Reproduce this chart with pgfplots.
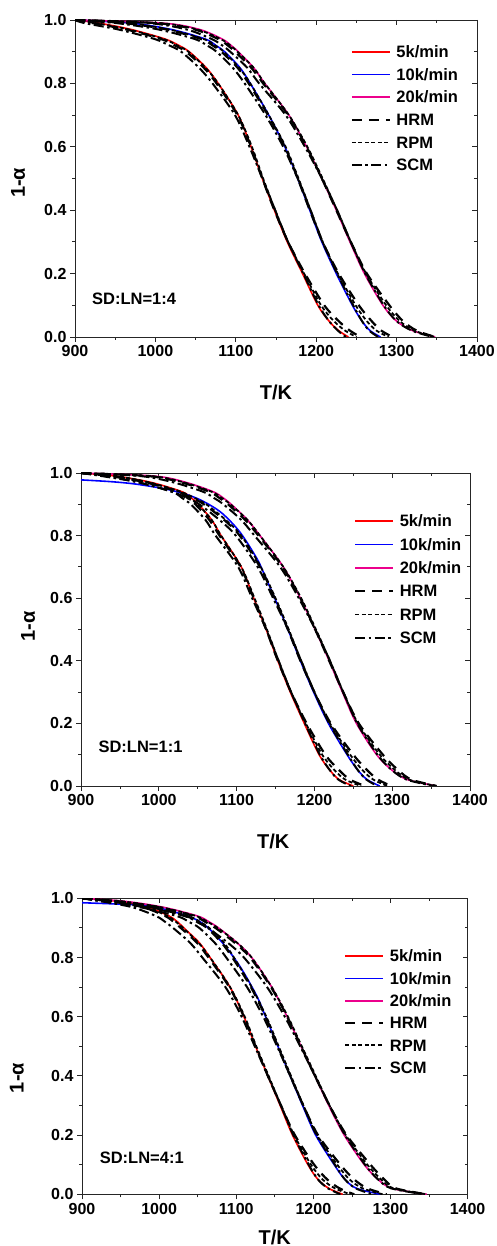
\documentclass[border=0pt]{standalone}
\usepackage{fontspec}
\setmainfont{Liberation Sans}
\usepackage{pgfplots}
\pgfplotsset{compat=1.18}
\usepackage{pgfplotstable}

% panel 1 : columns = 1-alpha, exp (5,10,20 K/min), models
\pgfplotstableread{
v rE bE mE rH rR rS bH bR bS mH mR mS
1.00 900 900 900 900 900 900 900 900 900 900 900 900
0.99 930 970 1010 922 926 912 962 966 952 1002 1006 992
0.97 970 1020 1055 964 967 954 1014 1017 1004 1049 1052 1039
0.94 1012 1062 1083 1007 1010 999 1057 1060 1049 1078 1081 1070
0.92 1029 1075 1094 1024 1027 1017 1071 1074 1064 1090 1093 1083
0.90 1042 1086 1103 1038 1041 1032 1082 1085 1076 1099 1102 1093
0.85 1063 1105 1122 1060 1062 1054 1102 1104 1096 1119 1122 1114
0.80 1078 1118 1136 1076 1078 1071 1116 1118 1111 1134 1136 1129
0.70 1103 1141 1166 1102 1103 1099 1140 1141 1137 1165 1166 1162
0.60 1119 1161 1188 1119 1120 1117 1161 1162 1159 1188 1189 1186
0.50 1133 1177 1207 1133 1134 1133 1177 1178 1177 1207 1208 1207
0.40 1148 1192 1225 1148 1149 1149 1192 1193 1193 1225 1226 1226
0.30 1164 1207 1242 1165 1165 1165 1208 1208 1208 1243 1243 1243
0.20 1183 1225 1260 1186 1185 1184 1228 1227 1226 1263 1262 1261
0.10 1202 1245 1283 1210 1206 1203 1253 1249 1246 1291 1287 1284
0.05 1216 1257 1300 1228 1222 1216 1269 1263 1257 1308 1304 1300
0.02 1228 1267 1320 1242 1236 1227 1281 1275 1266 1325 1322 1319
0.00 1240 1280 1348 1255 1250 1237 1295 1290 1277 1348 1348 1345
}\tabA

\pgfplotstableread{
v rE mE rH rR rS bH bR bS mH mR mS
1.00 900 900 900 900 900 900 900 900 900 900 900
0.99 945 995 937 941 927 942 946 932 987 991 977
0.97 990 1035 984 987 974 984 987 974 1029 1032 1019
0.94 1030 1070 1025 1028 1017 1025 1028 1017 1065 1068 1057
0.92 1042 1083 1037 1040 1030 1043 1046 1036 1078 1081 1071
0.90 1051 1093 1047 1050 1041 1058 1061 1052 1089 1092 1083
0.85 1068 1114 1065 1068 1060 1084 1086 1078 1111 1114 1106
0.80 1080 1130 1078 1080 1073 1104 1106 1099 1128 1130 1123
0.70 1106 1160 1105 1106 1102 1130 1131 1127 1159 1160 1156
0.60 1122 1182 1122 1123 1120 1149 1150 1147 1182 1183 1180
0.50 1138 1201 1138 1139 1138 1166 1167 1166 1201 1202 1201
0.40 1153 1219 1153 1154 1154 1182 1183 1183 1219 1220 1220
0.30 1169 1236 1170 1170 1170 1200 1200 1200 1237 1237 1237
0.20 1187 1254 1190 1189 1188 1221 1220 1219 1257 1256 1255
0.10 1206 1280 1214 1210 1207 1250 1246 1243 1288 1284 1281
0.05 1220 1300 1232 1226 1220 1268 1262 1256 1308 1304 1300
0.02 1232 1320 1246 1240 1231 1282 1276 1267 1325 1322 1319
0.00 1250 1357 1265 1260 1247 1299 1294 1281 1357 1357 1354
}\tabB

\pgfplotstableread{
T v
900 0.978
940 0.972
972 0.964
1014 0.946
1049 0.919
1079 0.876
1104 0.812
1126 0.727
1134 0.685
1149 0.600
1166 0.500
1182 0.400
1199 0.300
1218 0.200
1242 0.100
1256 0.050
1268 0.020
1284 0.000
}\tabBblue

\pgfplotstableread{
v rE mE rH rR rS bH bR bS mH mR mS
1.00 900 900 900 900 900 900 900 900 900 900 900
0.99 945 955 937 941 925 937 941 925 947 951 935
0.97 985 1005 979 982 965 989 992 975 999 1002 985
0.94 1013 1050 1008 1011 996 1035 1038 1023 1045 1048 1033
0.92 1024 1065 1019 1022 1008 1050 1053 1039 1060 1063 1049
0.90 1032 1077 1028 1031 1018 1062 1065 1052 1073 1076 1063
0.85 1052 1101 1049 1051 1040 1081 1084 1072 1098 1101 1089
0.80 1066 1120 1064 1066 1056 1095 1097 1087 1118 1120 1110
0.70 1092 1146 1091 1092 1086 1119 1120 1114 1145 1146 1140
0.60 1110 1166 1110 1111 1107 1138 1139 1135 1166 1167 1163
0.50 1125 1184 1125 1126 1124 1154 1155 1153 1184 1185 1183
0.40 1141 1202 1141 1142 1141 1170 1171 1170 1202 1203 1202
0.30 1157 1220 1158 1158 1158 1187 1187 1187 1221 1221 1221
0.20 1173 1240 1176 1175 1174 1206 1205 1204 1243 1242 1241
0.10 1193 1266 1201 1197 1194 1235 1231 1228 1274 1270 1267
0.05 1206 1284 1218 1212 1206 1253 1247 1241 1292 1288 1284
0.02 1220 1302 1234 1228 1219 1270 1264 1255 1307 1304 1301
0.00 1238 1347 1253 1248 1235 1295 1290 1277 1347 1347 1344
}\tabC

\pgfplotstableread{
T v
900 0.985
950 0.980
993 0.972
1049 0.927
1079 0.859
1105 0.769
1127 0.668
1138 0.600
1154 0.500
1170 0.400
1186 0.300
1203 0.200
1227 0.100
1241 0.050
1256 0.020
1287 0.000
}\tabCblue

\pgfplotsset{
  base/.style={scale only axis, xmin=900, xmax=1400, ymin=0, ymax=1,
    xtick={900,1000,1100,1200,1300,1400}, ytick={0,0.2,0.4,0.6,0.8,1.0},
    minor x tick num=1, minor y tick num=1,
    major tick length=5pt, minor tick length=3pt,
    axis line style={line width=0.8pt, black!85},
    every tick/.append style={line width=0.8pt, black!85}},
  lbl/.style={base, tick align=outside, xtick pos=left, ytick pos=left,
    ticklabel style={font=\fontsize{16}{18}\selectfont\bfseries},
    /pgf/number format/assume math mode=true,
    /pgf/number format/1000 sep={},
    yticklabel style={/pgf/number format/fixed, /pgf/number format/fixed zerofill, /pgf/number format/precision=1},
    xlabel={T/K}, ylabel={1-α},
    label style={font=\fontsize{20}{22}\selectfont\bfseries},
    legend image code/.code={\draw[##1] (0pt,0pt) -- (38pt,0pt);},
    legend cell align=left,
    legend style={draw=none, fill=none, inner sep=0pt, outer sep=0pt,
      font=\fontsize{16.5}{18}\selectfont\bfseries,
      nodes={inner sep=0pt, text height=11.5pt, text depth=0pt},
      /tikz/every odd column/.append style={column sep=5.5pt}}},
  tr/.style={base, tick align=inside, xtick pos=right, ytick pos=right,
    xticklabels={}, yticklabels={}},
  ex/.style={line width=1.6pt, smooth},
  hrm/.style={black, line width=2.2pt, smooth, dash pattern=on 10pt off 7pt},
  rpm/.style={black, line width=1.8pt, smooth, dash pattern=on 4pt off 2.5pt},
  scm/.style={black, line width=2pt, smooth, dash pattern=on 10pt off 3.5pt on 2.5pt off 3.5pt},
}

\begin{document}
\begin{tikzpicture}
\useasboundingbox (0pt,0pt) rectangle (496pt,1246pt);

% ---------------- panel 1 ----------------
\begin{axis}[tr, at={(75pt,909pt)}, anchor=south west, width=402pt, height=317pt]
\end{axis}
\begin{axis}[lbl, at={(75pt,909pt)}, anchor=south west, width=402pt, height=317pt,
  xlabel style={at={(axis description cs:0.5,-0.1735)}, anchor=center},
  ylabel style={at={(axis description cs:-0.1418,0.486)}, anchor=center},
  legend style={at={(axis description cs:0.686,0.917)}, anchor=north west, row sep=11.1pt}]
\addplot[ex, red] table[x=rE, y=v] {\tabA}; \addlegendentry{5k/min}
\addplot[ex, blue] table[x=bE, y=v] {\tabA}; \addlegendentry{10k/min}
\addplot[ex, magenta] table[x=mE, y=v] {\tabA}; \addlegendentry{20k/min}
\addplot[hrm] table[x=rH, y=v] {\tabA}; \addlegendentry{HRM}
\addplot[rpm] table[x=rR, y=v] {\tabA}; \addlegendentry{RPM}
\addplot[scm] table[x=rS, y=v] {\tabA}; \addlegendentry{SCM}
\addplot[hrm, forget plot] table[x=bH, y=v] {\tabA};
\addplot[rpm, forget plot] table[x=bR, y=v] {\tabA};
\addplot[scm, forget plot] table[x=bS, y=v] {\tabA};
\addplot[hrm, forget plot] table[x=mH, y=v] {\tabA};
\addplot[rpm, forget plot] table[x=mR, y=v] {\tabA};
\addplot[scm, forget plot] table[x=mS, y=v] {\tabA};
\node[anchor=west, font=\fontsize{16.5}{18}\selectfont\bfseries] at (axis cs:917,0.12) {SD:LN=1:4};
\end{axis}

% ---------------- panel 2 ----------------
\begin{axis}[tr, at={(81pt,460pt)}, anchor=south west, width=389pt, height=313pt]
\end{axis}
\begin{axis}[lbl, at={(81pt,460pt)}, anchor=south west, width=389pt, height=313pt,
  xlabel style={at={(axis description cs:0.494,-0.1757)}, anchor=center},
  ylabel style={at={(axis description cs:-0.136,0.509)}, anchor=center},
  legend style={at={(axis description cs:0.702,0.865)}, anchor=north west, row sep=11.9pt}]
\addplot[ex, red] table[x=rE, y=v] {\tabB}; \addlegendentry{5k/min}
\addplot[ex, blue] table[x=T, y=v] {\tabBblue}; \addlegendentry{10k/min}
\addplot[ex, magenta] table[x=mE, y=v] {\tabB}; \addlegendentry{20k/min}
\addplot[hrm] table[x=rH, y=v] {\tabB}; \addlegendentry{HRM}
\addplot[rpm] table[x=rR, y=v] {\tabB}; \addlegendentry{RPM}
\addplot[scm] table[x=rS, y=v] {\tabB}; \addlegendentry{SCM}
\addplot[hrm, forget plot] table[x=bH, y=v] {\tabB};
\addplot[rpm, forget plot] table[x=bR, y=v] {\tabB};
\addplot[scm, forget plot] table[x=bS, y=v] {\tabB};
\addplot[hrm, forget plot] table[x=mH, y=v] {\tabB};
\addplot[rpm, forget plot] table[x=mR, y=v] {\tabB};
\addplot[scm, forget plot] table[x=mS, y=v] {\tabB};
\node[anchor=west, font=\fontsize{16.5}{18}\selectfont\bfseries] at (axis cs:918,0.126) {SD:LN=1:1};
\end{axis}

% ---------------- panel 3 ----------------
\begin{axis}[tr, at={(82pt,51.7pt)}, anchor=south west, width=385.6pt, height=296pt]
\end{axis}
\begin{axis}[lbl, at={(82pt,51.7pt)}, anchor=south west, width=385.6pt, height=296pt,
  xlabel style={at={(axis description cs:0.5,-0.145)}, anchor=center},
  ylabel style={at={(axis description cs:-0.169,0.393)}, anchor=center},
  legend style={at={(axis description cs:0.68,0.824)}, anchor=north west, row sep=10.8pt}]
\addplot[ex, red] table[x=rE, y=v] {\tabC}; \addlegendentry{5k/min}
\addplot[ex, blue] table[x=T, y=v] {\tabCblue}; \addlegendentry{10k/min}
\addplot[ex, magenta] table[x=mE, y=v] {\tabC}; \addlegendentry{20k/min}
\addplot[hrm] table[x=rH, y=v] {\tabC}; \addlegendentry{HRM}
\addplot[rpm] table[x=rR, y=v] {\tabC}; \addlegendentry{RPM}
\addplot[scm] table[x=rS, y=v] {\tabC}; \addlegendentry{SCM}
\addplot[hrm, forget plot] table[x=bH, y=v] {\tabC};
\addplot[rpm, forget plot] table[x=bR, y=v] {\tabC};
\addplot[scm, forget plot] table[x=bS, y=v] {\tabC};
\addplot[hrm, forget plot] table[x=mH, y=v] {\tabC};
\addplot[rpm, forget plot] table[x=mR, y=v] {\tabC};
\addplot[scm, forget plot] table[x=mS, y=v] {\tabC};
\node[anchor=west, font=\fontsize{16.5}{18}\selectfont\bfseries] at (axis cs:918.5,0.122) {SD:LN=4:1};
\end{axis}
\end{tikzpicture}
\end{document}
